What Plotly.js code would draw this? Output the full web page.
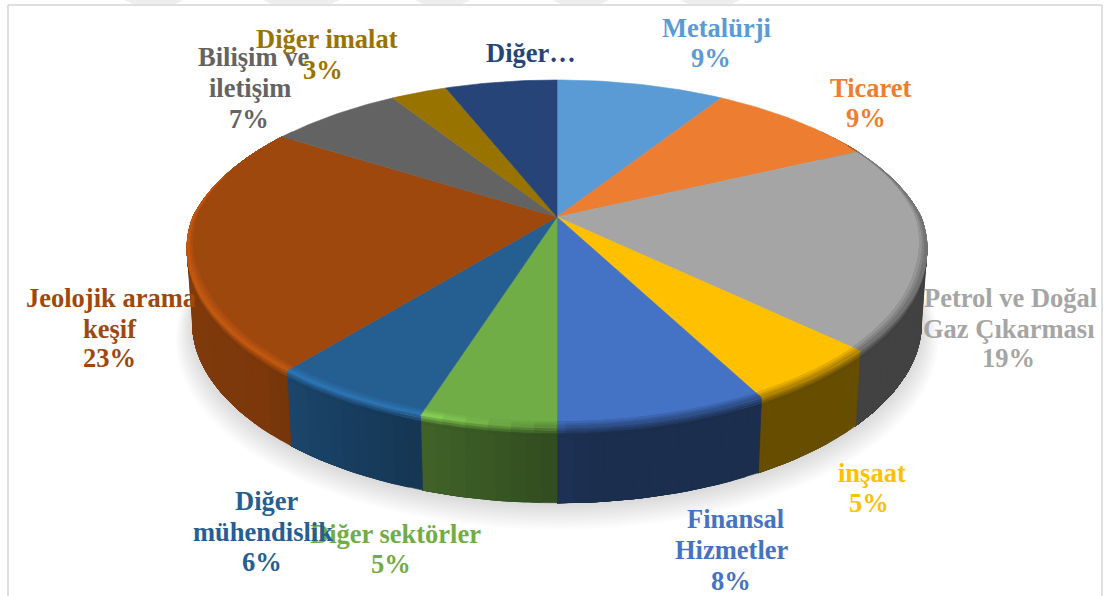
<!DOCTYPE html>
<html><head><meta charset="utf-8">
<script src="https://cdn.plot.ly/plotly-3.0.1.min.js"></script>
<style>html,body{margin:0;padding:0;background:#fff}#c{width:1105px;height:596px}</style>
</head><body><div id="c"></div>
<script>
// ---- data
const categories = ["Metalürji","Ticaret","Petrol ve Doğal Gaz Çıkarması","inşaat","Finansal Hizmetler","Diğer sektörler","Diğer mühendislik","Jeolojik arama keşif","Bilişim ve iletişim","Diğer imalat","Diğer…"];
const shares = [9,9,19,5.2,7.8,5,6,23,7,3,6];
const colors = ["#5b9bd5","#ed7d31","#a5a5a5","#ffc000","#4472c4","#70ad47","#255e91","#9e480e","#636363","#997300","#264478"];
// ---- label layout: wrapped lines, then a centre per line (last line is the percent)
const labelLines = [["Metalürji"],["Ticaret"],["Petrol ve Doğal","Gaz Çıkarması"],["inşaat"],["Finansal","Hizmetler"],["Diğer sektörler"],["Diğer","mühendislik"],["Jeolojik arama","keşif"],["Bilişim ve","iletişim"],["Diğer imalat"],["Diğer…"]];
const labelPos = [
 [[716,28],[711,58]],
 [[871,88],[866,118]],
 [[1010,298],[1009,329],[1008,358]],
 [[872,473],[869,503]],
 [[735,519],[732,550],[731,581]],
 [[395,534],[391,564]],
 [[267,501],[263,532],[262,562]],
 [[111,298],[110,329],[109,358]],
 [[253,57],[250,88],[249,119]],
 [[327,39],[323,70]],
 [[531,53]]
];
// ---- projection of the disc
const cx=557, cy=217, A=364, B=167.4, K=0.2216, DEPTH=75;
function ring(tDeg, r, d){
  const t=tDeg*Math.PI/180, X=r*Math.sin(t), Y=r*Math.cos(t), w=1+K*Y;
  const neg=Math.max(0,-Y);
  const sx=(1-0.015*(d/DEPTH))*(1-0.045*neg);
  return [cx+A*X/w*sx, cy-B*Y/w*(1-0.02*neg*neg)+d];
}
const hex=c=>[1,3,5].map(i=>parseInt(c.substr(i,2),16));
const rgb=a=>`rgb(${a.map(v=>Math.round(Math.max(0,Math.min(255,v)))).join(",")})`;
const mix=(a,b,f)=>a.map((v,i)=>v+(b[i]-v)*f);
const clamp01=v=>Math.max(0,Math.min(1,v));
function wallShade(t){ return t<=175?0.4:(t<=225?0.4+0.38*(t-175)/50:0.78+0.05*clamp01((t-225)/45)); }
function glow(t){ return clamp01((t-178)/20); }
function taper(t){ return clamp01((t-62)/45)*clamp01((285-t)/40); }

const traces=[];
function poly(xs,ys,col){ traces.push({type:"scatter",mode:"lines",x:xs,y:ys,fill:"toself",fillcolor:col,line:{color:col,width:0.6},hoverinfo:"skip",showlegend:false}); }
// soft shadow under the disc
for(let i=0;i<12;i++){
  const s=1+0.004*(12-i), xs=[],ys=[];
  for(let t=0;t<=360;t+=4){const p=ring(t,s,DEPTH+1+(12-i)*1.1);xs.push(p[0]);ys.push(p[1]);}
  traces.push({type:"scatter",mode:"lines",x:xs,y:ys,fill:"toself",fillcolor:"rgba(0,0,0,0.012)",line:{width:0},hoverinfo:"skip",showlegend:false});
}
// slice angle limits
const total=shares.reduce((a,b)=>a+b,0); let acc=0;
const slices=shares.map((v,i)=>{const a=acc/total*360; acc+=v; return {a,b:acc/total*360,c:hex(colors[i]),col:colors[i]};});
function starts(a,b,st){const o=[];for(let t=a;t<b-1e-6;t+=st)o.push(t);return o;}
function band(t0,t1,r0,d0,r1,d1,col){
  const xs=[],ys=[],n=Math.max(1,Math.ceil((t1-t0)/1.5)),pts=[];
  for(let j=0;j<=n;j++)pts.push(t0+(t1-t0)*j/n);
  for(const t of pts){const u=taper(t);const p=ring(t,1-(1-r0)*u,d0);xs.push(p[0]);ys.push(p[1]);}
  for(const t of pts.slice().reverse()){const u=taper(t);const p=ring(t,1-(1-r1)*u,d1);xs.push(p[0]);ys.push(p[1]);}
  xs.push(xs[0]);ys.push(ys[0]);poly(xs,ys,col);
}
const INSET=0.022, BANDS=3;
function rimOf(s,tm){
  const wall=s.c.map(v=>v*wallShade(tm));
  const mid=mix(s.c,wall,0.5), hi=s.c.map(v=>v*1.22);
  return {wall,rim:mix(mid,hi,glow(tm))};
}
// every strip runs on to the end of its slice, so the next strip paints over it and no seam shows
slices.forEach(s=>{
  const a=Math.max(s.a,55), b=Math.min(s.b,305); if(b<=a)return;
  for(const t0 of starts(a,b,2)){
    band(t0,b,1,7,1,DEPTH,rgb(rimOf(s,t0+1).wall));
  }
  for(const t0 of starts(a,b,3)){
    const {wall,rim}=rimOf(s,t0+1.5);
    for(let k=BANDS-1;k>=0;k--){
      band(t0,b,1,8*k/BANDS,1,8*(k+1)/BANDS,rgb(mix(rim,wall,(k+1)/BANDS)));
    }
  }
});
slices.forEach(s=>{
  const xs=[cx],ys=[cy],n=Math.ceil((s.b-s.a)/1);
  for(let j=0;j<=n;j++){const p=ring(s.a+(s.b-s.a)*j/n,1,0);xs.push(p[0]);ys.push(p[1]);}
  xs.push(cx);ys.push(cy);poly(xs,ys,s.col);
});
slices.forEach(s=>{
  const a=Math.max(s.a,62), b=Math.min(s.b,285); if(b<=a)return;
  for(const t0 of starts(a,b,3)){
    const {rim}=rimOf(s,t0+1.5);
    for(let k=0;k<BANDS;k++){
      band(t0,b,1-INSET*(1-k/BANDS),0,1-INSET*(1-(k+1)/BANDS),0,rgb(mix(s.c,rim,(k+1)/BANDS)));
    }
  }
});
// labels
const annotations=[];
const FS=26.5;
slices.forEach((s,i)=>{
  const lines=labelLines[i].slice();
  if(i<categories.length-1) lines.push(Math.round(shares[i]/total*100)+"%");
  lines.forEach((txt,j)=>{
    const p=labelPos[i][j];
    annotations.push({xref:"x",yref:"y",x:p[0],y:p[1],text:"<b>"+txt+"</b>",showarrow:false,xanchor:"center",yanchor:"middle",
      font:{family:"Liberation Serif",size:FS,color:s.col}});
  });
});
const frame="#d4d4d4", wm="#eeeeee";
const shapes=[
 {type:"line",x0:8,x1:8,y0:5,y1:596,line:{color:frame,width:1.5}},
 {type:"line",x0:8,x1:1102,y0:5,y1:5,line:{color:frame,width:1.5}},
 {type:"line",x0:1102,x1:1102,y0:5,y1:596,line:{color:frame,width:1.5}}
];
[[125,183],[263,339],[415,470],[553,609],[680,740]].forEach(w=>{
  shapes.push({type:"path",path:`M ${w[0]} 0 L ${w[1]} 0 L ${w[1]-8} 4 L ${w[0]+8} 4 Z`,fillcolor:wm,line:{width:0},layer:"below"});
});
Plotly.newPlot("c",traces,{
  width:1105,height:596,margin:{l:0,r:0,t:0,b:0},
  paper_bgcolor:"#fff",plot_bgcolor:"#fff",showlegend:false,
  xaxis:{range:[0,1105],visible:false,fixedrange:true},
  yaxis:{range:[596,0],visible:false,fixedrange:true},
  annotations,shapes
},{displayModeBar:false,staticPlot:true});
</script></body></html>
